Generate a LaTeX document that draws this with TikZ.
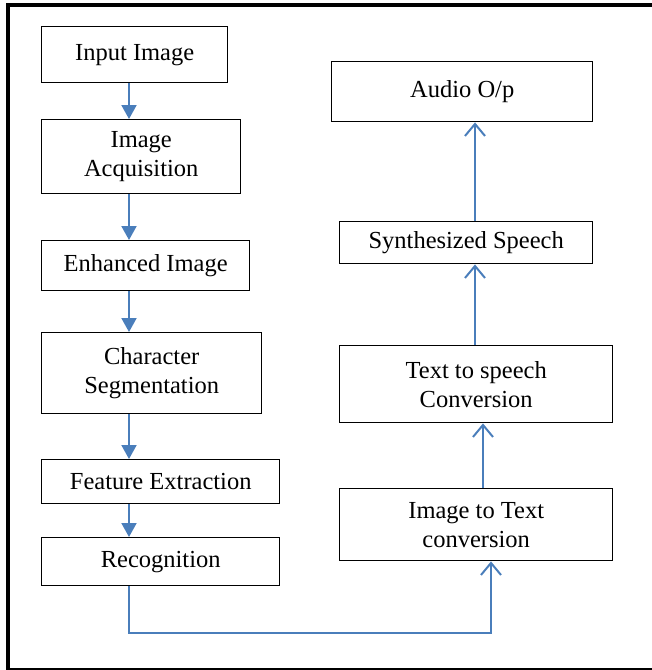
\documentclass[tikz,border=0pt]{standalone}
\usepackage{fontspec}
\setmainfont{Liberation Serif}
\usetikzlibrary{arrows.meta}
\definecolor{arrowblue}{RGB}{74,126,187}
\begin{document}
\begin{tikzpicture}[x=1pt,y=-1pt,
  box/.style={draw=black, line width=1.4pt, anchor=north west, align=center, inner sep=0pt,
              font=\fontsize{24.5}{29}\selectfont},
  fl/.style={draw=arrowblue, line width=2pt, -{Triangle[width=15pt,length=14pt]}},
  ol/.style={draw=arrowblue, line width=2pt, -{Straight Barb[width=20pt,length=12pt]}}]
\useasboundingbox (0,0) rectangle (652,670);
% outer frame
\draw[line width=4pt] (7.5,5) rectangle (700,669.5);
% left column
\node[box, minimum width=186pt, minimum height=56pt] (in)  at (41,26)  {Input Image};
\node[box, minimum width=199pt, minimum height=74pt] (acq) at (41,119) {Image\\Acquisition};
\node[box, minimum width=208pt, minimum height=50pt] (enh) at (41,240) {Enhanced Image};
\node[box, minimum width=220pt, minimum height=81pt] (seg) at (41,332) {Character\\Segmentation};
\node[box, minimum width=238pt, minimum height=44pt] (fea) at (41,459) {Feature Extraction};
\node[box, minimum width=238pt, minimum height=48pt] (rec) at (41,537) {Recognition};
% right column
\node[box, minimum width=261pt, minimum height=60pt] (aud) at (331,61)  {Audio O/p};
\node[box, minimum width=253pt, minimum height=42pt] (syn) at (339,221) {Synthesized Speech};
\node[box, minimum width=273pt, minimum height=77pt] (tts) at (339,345) {Text to speech\\Conversion};
\node[box, minimum width=273pt, minimum height=72pt] (itt) at (339,488) {Image to Text\\conversion};
% connector x positions
\coordinate (lx) at (129,0);
\coordinate (rx) at (491,0);
\coordinate (tx) at (483,0);
\coordinate (sx) at (475,0);
\coordinate (bend) at (129,633);
% left arrows
\draw[fl] (in.south -| lx)  -- (acq.north -| lx);
\draw[fl] (acq.south -| lx) -- (enh.north -| lx);
\draw[fl] (enh.south -| lx) -- (seg.north -| lx);
\draw[fl] (seg.south -| lx) -- (fea.north -| lx);
\draw[fl] (fea.south -| lx) -- (rec.north -| lx);
% bottom link
\draw[ol] (rec.south -| lx) -- (bend) -| (itt.south -| rx);
% right arrows
\draw[ol] (itt.north -| tx) -- (tts.south -| tx);
\draw[ol] (tts.north -| sx) -- (syn.south -| sx);
\draw[ol] (syn.north -| sx) -- (aud.south -| sx);
\end{tikzpicture}
\end{document}
